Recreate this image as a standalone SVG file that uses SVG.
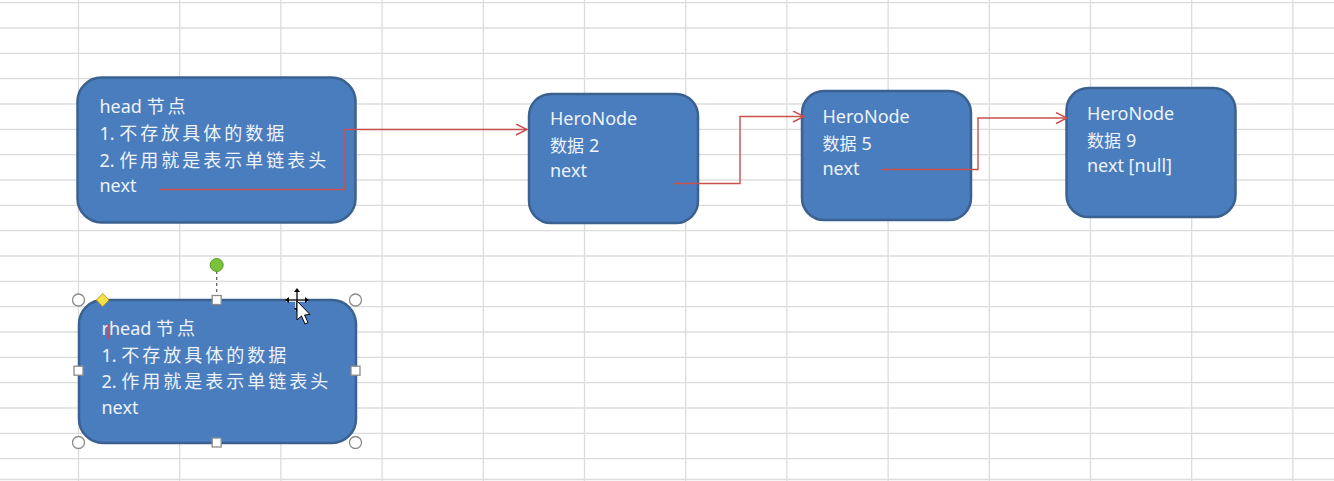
<svg xmlns="http://www.w3.org/2000/svg" width="1334" height="481" viewBox="0 0 1334 481">
<defs>
<style>
.grid line{stroke:#dcdcdc;stroke-width:1.3}
.box{fill:#4a7dbe;stroke:#3a6190;stroke-width:2.5}
.t{font-family:"Noto Sans","Noto Sans CJK SC",sans-serif;font-size:18px;fill:#eef3fa}
.cw{letter-spacing:3px}
.cn{font-size:17px}
.conn path{fill:none;stroke:#c8504d;stroke-width:1.4}
.hc{fill:#fff;stroke:#8a8a8a;stroke-width:1.3}
</style>
<marker id="arr" markerUnits="userSpaceOnUse" markerWidth="14" markerHeight="14" refX="12" refY="6" orient="auto">
<path d="M1,0.5 L12,6 L1,11.5" fill="none" stroke="#c8504d" stroke-width="1.4"/>
</marker>
</defs>
<rect width="1334" height="481" fill="#ffffff"/>
<g class="grid">
<line x1="0" y1="2.7" x2="1334" y2="2.7"/>
<line x1="0" y1="28" x2="1334" y2="28"/>
<line x1="0" y1="53.3" x2="1334" y2="53.3"/>
<line x1="0" y1="78.7" x2="1334" y2="78.7"/>
<line x1="0" y1="104" x2="1334" y2="104"/>
<line x1="0" y1="129.3" x2="1334" y2="129.3"/>
<line x1="0" y1="154.7" x2="1334" y2="154.7"/>
<line x1="0" y1="180" x2="1334" y2="180"/>
<line x1="0" y1="205.3" x2="1334" y2="205.3"/>
<line x1="0" y1="230.7" x2="1334" y2="230.7"/>
<line x1="0" y1="256" x2="1334" y2="256"/>
<line x1="0" y1="281.3" x2="1334" y2="281.3"/>
<line x1="0" y1="306.7" x2="1334" y2="306.7"/>
<line x1="0" y1="332" x2="1334" y2="332"/>
<line x1="0" y1="357.3" x2="1334" y2="357.3"/>
<line x1="0" y1="382.7" x2="1334" y2="382.7"/>
<line x1="0" y1="408" x2="1334" y2="408"/>
<line x1="0" y1="433.3" x2="1334" y2="433.3"/>
<line x1="0" y1="458.7" x2="1334" y2="458.7"/>
<line x1="0" y1="479.5" x2="1334" y2="479.5"/>
<line x1="78.5" y1="0" x2="78.5" y2="481"/>
<line x1="179.7" y1="0" x2="179.7" y2="481"/>
<line x1="280.9" y1="0" x2="280.9" y2="481"/>
<line x1="382.1" y1="0" x2="382.1" y2="481"/>
<line x1="483.3" y1="0" x2="483.3" y2="481"/>
<line x1="584.5" y1="0" x2="584.5" y2="481"/>
<line x1="685.7" y1="0" x2="685.7" y2="481"/>
<line x1="786.9" y1="0" x2="786.9" y2="481"/>
<line x1="888.1" y1="0" x2="888.1" y2="481"/>
<line x1="989.3" y1="0" x2="989.3" y2="481"/>
<line x1="1090.5" y1="0" x2="1090.5" y2="481"/>
<line x1="1191.7" y1="0" x2="1191.7" y2="481"/>
<line x1="1292.9" y1="0" x2="1292.9" y2="481"/>
</g>

<g id="head">
<rect class="box" x="77.5" y="77.5" width="278" height="145" rx="24"/>
<text class="t" x="99.5" y="113">head <tspan class="cw">节点</tspan></text>
<text class="t" x="99.5" y="140">1. <tspan class="cw">不存放具体的数据</tspan></text>
<text class="t" x="99.5" y="166.5">2. <tspan class="cw">作用就是表示单链表头</tspan></text>
<text class="t" x="99.5" y="191.5">next</text>
</g>

<g id="hero2">
<rect class="box" x="529" y="94" width="169" height="129" rx="22"/>
<text class="t" x="550" y="125">HeroNode</text>
<text class="t" x="550" y="151.5"><tspan class="cn">数据</tspan><tspan dx="5">2</tspan></text>
<text class="t" x="550" y="177">next</text>
</g>

<g id="hero5">
<rect class="box" x="802" y="91" width="169" height="129" rx="22"/>
<text class="t" x="822.5" y="123">HeroNode</text>
<text class="t" x="822.5" y="150"><tspan class="cn">数据</tspan><tspan dx="5">5</tspan></text>
<text class="t" x="822.5" y="175">next</text>
</g>

<g id="hero9">
<rect class="box" x="1066.5" y="88" width="169" height="129" rx="22"/>
<text class="t" x="1087" y="120">HeroNode</text>
<text class="t" x="1087" y="146.5"><tspan class="cn">数据</tspan><tspan dx="5">9</tspan></text>
<text class="t" x="1087" y="172">next [null]</text>
</g>

<g id="headCopy">
<rect class="box" x="79" y="300" width="277" height="143" rx="24"/>
<text class="t" x="101.5" y="335">rhead <tspan class="cw">节点</tspan></text>
<text class="t" x="101.5" y="361.5">1. <tspan class="cw">不存放具体的数据</tspan></text>
<text class="t" x="101.5" y="388">2. <tspan class="cw">作用就是表示单链表头</tspan></text>
<text class="t" x="101.5" y="413.5">next</text>
<line x1="108.3" y1="324" x2="108.3" y2="339" stroke="#d0455a" stroke-width="1.6"/>
</g>

<g class="conn" id="connectors">
<path d="M160,189.5 H345 V129.5 H527" marker-end="url(#arr)"/>
<path d="M673,183.5 H740 V116.5 H804" marker-end="url(#arr)"/>
<path d="M882,169.5 H978 V118 H1067" marker-end="url(#arr)"/>
</g>

<g id="selection">
<line x1="216.7" y1="271" x2="216.7" y2="296" stroke="#6a6a6a" stroke-width="1.4" stroke-dasharray="3,3"/>
<circle cx="216.7" cy="265" r="6.5" fill="#7ac13c" stroke="#5e9a2c" stroke-width="1"/>
<circle class="hc" cx="78.5" cy="300" r="6"/>
<circle class="hc" cx="355.5" cy="300" r="6"/>
<circle class="hc" cx="78.5" cy="442.5" r="6"/>
<circle class="hc" cx="355.5" cy="442.5" r="6"/>
<rect class="hc" x="212.2" y="295.5" width="9" height="9"/>
<rect class="hc" x="212.2" y="438" width="9" height="9"/>
<rect class="hc" x="74" y="366.2" width="9" height="9"/>
<rect class="hc" x="351" y="366.2" width="9" height="9"/>
<path d="M102.7,293.5 L109,300 L102.7,306.5 L96.4,300 Z" fill="#f5e04a" stroke="#b8a020" stroke-width="1"/>
</g>

<g id="cursor">
<g stroke="#fff" stroke-width="3.5" fill="none">
<line x1="286" y1="300" x2="308" y2="300"/>
<line x1="297" y1="289" x2="297" y2="311"/>
</g>
<g stroke="#000" stroke-width="1.3" fill="none">
<line x1="287" y1="300" x2="307" y2="300"/>
<line x1="297" y1="290" x2="297" y2="310"/>
</g>
<path d="M297,288 L300,292 L294,292 Z M297,312 L300,308 L294,308 Z M285,300 L289,297 L289,303 Z M309,300 L305,297 L305,303 Z" fill="#000"/>
<path d="M297,301 L297,320 L301.5,316 L305,324 L308,322.6 L304.6,315 L310,314.5 Z" fill="#fff" stroke="#000" stroke-width="1"/>
</g>
</svg>
